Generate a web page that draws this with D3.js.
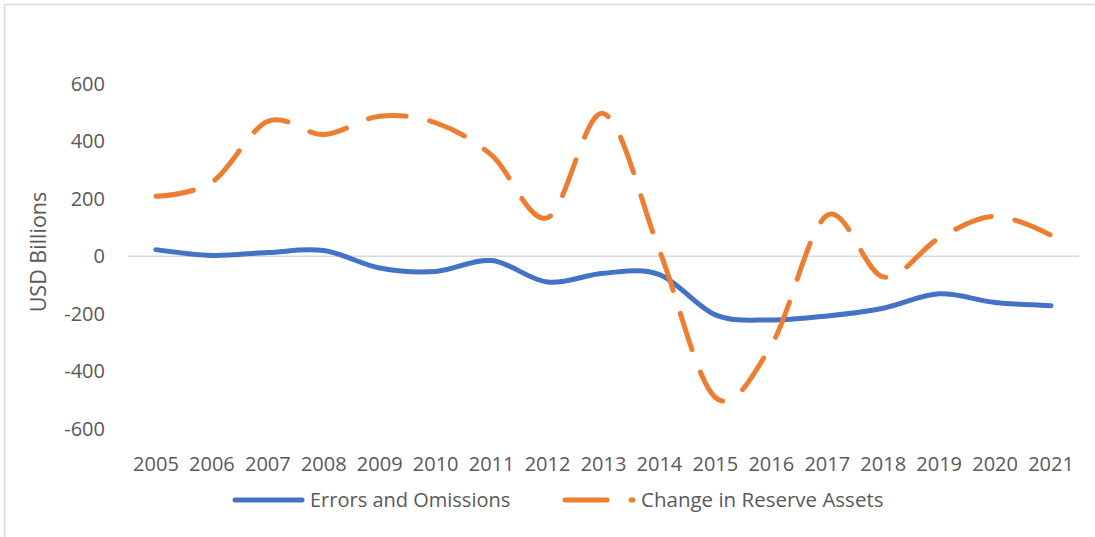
<!DOCTYPE html>
<html>
<head>
<meta charset="utf-8">
<script src="https://cdn.jsdelivr.net/npm/d3@7"></script>
<style>
  body { margin: 0; background: #fff; }
  text { font-family: "Open Sans", sans-serif; fill: #595959; }
</style>
</head>
<body>
<div id="chart"></div>
<script>
const years = ["2005","2006","2007","2008","2009","2010","2011","2012","2013",
  "2014","2015","2016","2017","2018","2019","2020","2021"];
const errorsOmissions = [23, 3, 13, 20, -41, -53, -15, -90, -59, -64, -204, -222, -208, -181, -131, -161, -172];
const reserveAssets = [209, 258, 470, 424, 488, 465, 352, 134, 497, 20, -492, -310, 143, -72, 63, 139, 73];
const yTicks = [-600, -400, -200, 0, 200, 400, 600];

const width = 1095, height = 537;

const svg = d3.select("#chart")
  .append("svg")
  .attr("width", width)
  .attr("height", height);

// chart area border (only left and top show in the crop)
svg.append("rect")
  .attr("x", 4.5).attr("y", 4.5)
  .attr("width", 1200).attr("height", 600)
  .attr("fill", "none")
  .attr("stroke", "#d9d9d9")
  .attr("stroke-width", 1.5);

const x = d3.scalePoint()
  .domain(years)
  .range([128, 1079])
  .padding(0.5);

const y = d3.scaleLinear()
  .domain([-600, 600])
  .range([428.5, 84]);

// zero line
svg.append("line")
  .attr("x1", 128).attr("x2", 1079)
  .attr("y1", y(0)).attr("y2", y(0))
  .attr("stroke", "#d9d9d9")
  .attr("stroke-width", 1.5);

// y tick labels
svg.append("g")
  .selectAll("text")
  .data(yTicks)
  .enter()
  .append("text")
  .attr("x", 105)
  .attr("y", d => y(d))
  .attr("dy", "0.35em")
  .attr("text-anchor", "end")
  .style("font-size", "20px")
  .text(d => d);

// x labels
svg.append("g")
  .selectAll("text")
  .data(years)
  .enter()
  .append("text")
  .attr("x", d => x(d))
  .attr("y", 471)
  .attr("text-anchor", "middle")
  .style("font-size", "20px")
  .text(d => d);

// y title
svg.append("text")
  .attr("transform", "translate(46,252) rotate(-90)")
  .attr("text-anchor", "middle")
  .style("font-size", "21.5px")
  .text("USD Billions");

const line = d3.line()
  .x((d, i) => x(years[i]))
  .y(d => y(d))
  .curve(d3.curveCardinal.tension(0));

svg.append("path")
  .datum(errorsOmissions)
  .attr("d", line)
  .attr("fill", "none")
  .attr("stroke", "#4472c4")
  .attr("stroke-width", 5)
  .attr("stroke-linecap", "round");

svg.append("path")
  .datum(reserveAssets)
  .attr("d", line)
  .attr("fill", "none")
  .attr("stroke", "#ed7d31")
  .attr("stroke-width", 5)
  .attr("stroke-linecap", "round")
  .attr("stroke-dasharray", "38,24");

// legend
const legend = svg.append("g");
legend.append("line")
  .attr("x1", 235).attr("x2", 302)
  .attr("y1", 500).attr("y2", 500)
  .attr("stroke", "#4472c4")
  .attr("stroke-width", 5)
  .attr("stroke-linecap", "round");
legend.append("text")
  .attr("x", 310).attr("y", 500)
  .attr("dy", "0.35em")
  .style("font-size", "20px")
  .text("Errors and Omissions");
legend.append("line")
  .attr("x1", 565).attr("x2", 633)
  .attr("y1", 500).attr("y2", 500)
  .attr("stroke", "#ed7d31")
  .attr("stroke-width", 5)
  .attr("stroke-linecap", "round")
  .attr("stroke-dasharray", "42,24");
legend.append("text")
  .attr("x", 641).attr("y", 500)
  .attr("dy", "0.35em")
  .style("font-size", "20.5px")
  .text("Change in Reserve Assets");
</script>
</body>
</html>
